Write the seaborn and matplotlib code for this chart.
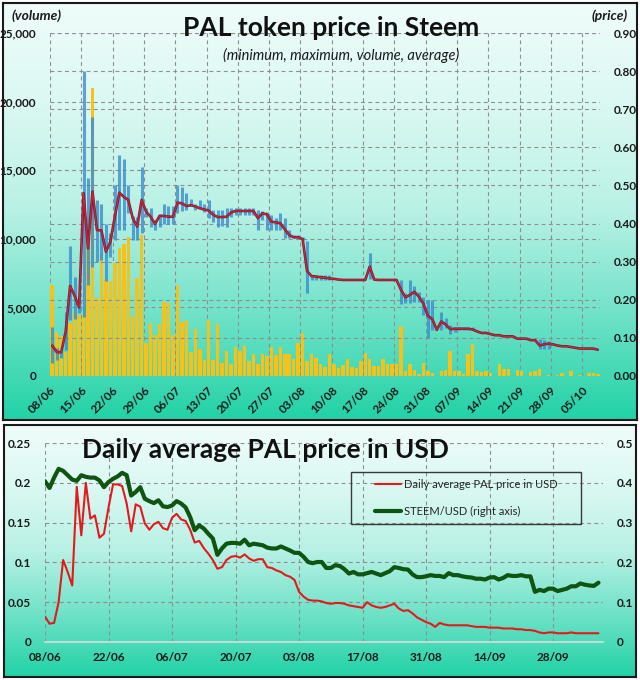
import numpy as np
import pandas as pd
import matplotlib.pyplot as plt
from matplotlib.colors import LinearSegmentedColormap
from matplotlib.patches import Rectangle
from matplotlib.ticker import FuncFormatter
import matplotlib.transforms as mtransforms
import seaborn as sns

sns.set_style("white")
plt.rcParams['font.family'] = ['Lato', 'DejaVu Sans']

dates = pd.date_range("2018-06-08", periods=123, freq="D")

# daily PAL trading volume (left axis, top chart)
volume = [6650, 3200, 2900, 1750, 3850, 4650, 4450, 4500, 11600, 21000,
          5700, 9000, 7000, 6950, 8250, 9300, 9650, 10100, 4300, 7150,
          10300, 2400, 3850, 3000, 3800, 5400, 5300, 3000, 6600, 3950,
          4050, 1750, 3450, 2000, 1150, 4050, 1200, 3800, 950, 1850,
          900, 2100, 1850, 2200, 1100, 1600, 900, 1600, 1450, 2100,
          1550, 2100, 1600, 1600, 1250, 2400, 3150, 1100, 1600, 1300,
          900, 650, 1600, 900, 550, 800, 1250, 650, 550, 1100,
          1650, 1250, 700, 700, 1250, 900, 850, 850, 3650, 350,
          850, 450, 150, 950, 400, 200, 0, 400, 450, 1800,
          400, 400, 150, 1600, 2300, 400, 300, 400, 250, 0,
          850, 500, 500, 0, 450, 400, 0, 300, 350, 500,
          0, 100, 0, 100, 200, 0, 400, 0, 100, 0,
          200, 200, 150]

# average price in STEEM
price_avg = [0.080, 0.063, 0.062, 0.116, 0.236, 0.211, 0.180, 0.480, 0.335, 0.484,
             0.383, 0.382, 0.326, 0.352, 0.418, 0.481, 0.470, 0.462, 0.414, 0.392,
             0.462, 0.431, 0.418, 0.399, 0.420, 0.420, 0.418, 0.418, 0.455, 0.453,
             0.446, 0.448, 0.445, 0.440, 0.437, 0.434, 0.423, 0.417, 0.417, 0.418,
             0.429, 0.433, 0.433, 0.433, 0.433, 0.433, 0.414, 0.427, 0.424, 0.405,
             0.403, 0.401, 0.385, 0.370, 0.364, 0.364, 0.359, 0.275, 0.262, 0.261,
             0.259, 0.258, 0.256, 0.255, 0.253, 0.252, 0.252, 0.252, 0.252, 0.252,
             0.252, 0.287, 0.253, 0.252, 0.252, 0.252, 0.252, 0.252, 0.226, 0.206,
             0.213, 0.221, 0.208, 0.190, 0.158, 0.149, 0.121, 0.143, 0.135, 0.123,
             0.124, 0.124, 0.124, 0.124, 0.122, 0.117, 0.113, 0.113, 0.110, 0.107,
             0.107, 0.104, 0.104, 0.104, 0.098, 0.098, 0.098, 0.094, 0.094, 0.080,
             0.083, 0.085, 0.083, 0.080, 0.078, 0.078, 0.076, 0.074, 0.072, 0.072,
             0.072, 0.072, 0.069]

# daily maximum / minimum price (None = no range shown)
price_max = [0.129, 0.073, 0.066, 0.169, 0.340, 0.260, 0.210, 0.800, 0.520, 0.680,
             0.462, 0.450, 0.400, 0.375, 0.500, 0.580, 0.570, 0.500, 0.420, 0.418,
             0.549, 0.440, 0.440, 0.410, 0.425, 0.450, 0.445, 0.445, 0.500, 0.495,
             0.480, 0.464, 0.450, 0.462, 0.450, 0.462, 0.436, 0.436, 0.436, 0.440,
             0.440, 0.440, 0.440, 0.440, 0.440, 0.440, 0.436, 0.432, 0.430, 0.423,
             0.414, 0.427, 0.414, 0.383, 0.370, 0.370, 0.364, 0.353, 0.265, 0.265,
             0.265, 0.265, 0.265, None, None, None, None, None, None, None,
             None, 0.322, None, None, None, None, None, None, 0.252, 0.217,
             0.252, 0.236, 0.220, 0.206, 0.200, 0.200, None, 0.169, 0.151, 0.134,
             0.129, 0.128, 0.128, 0.128, 0.128, None, None, None, None, None,
             None, None, None, None, None, None, None, None, None, 0.096,
             0.094, 0.092, None, None, None, None, None, None, None, None,
             None, None, None]
price_min = [0.033, 0.043, 0.047, 0.068, 0.147, 0.150, 0.165, 0.156, 0.240, 0.287,
             0.300, 0.305, 0.250, 0.313, 0.357, 0.383, 0.383, 0.427, 0.357, 0.357,
             0.374, 0.418, 0.392, 0.383, 0.392, 0.400, 0.400, 0.400, 0.427, 0.432,
             0.436, 0.445, 0.435, 0.440, 0.430, 0.414, 0.405, 0.392, 0.394, 0.392,
             0.418, 0.423, 0.423, 0.423, 0.423, 0.423, 0.383, 0.410, 0.383, 0.383,
             0.383, 0.383, 0.361, 0.361, 0.361, 0.361, 0.357, 0.217, 0.252, 0.252,
             0.252, 0.252, 0.252, None, None, None, None, None, None, None,
             None, 0.255, None, None, None, None, None, None, 0.190, 0.191,
             0.191, 0.195, 0.195, 0.160, 0.101, 0.122, None, 0.121, 0.125, 0.110,
             0.116, 0.120, 0.120, 0.120, 0.120, None, None, None, None, None,
             None, None, None, None, None, None, None, None, None, 0.070,
             0.070, 0.070, None, None, None, None, None, None, None, None,
             None, None, None]

# bottom chart
pal_usd = [0.032, 0.023, 0.024, 0.050, 0.103, 0.088, 0.071, 0.195, 0.134, 0.200,
           0.155, 0.159, 0.131, 0.136, 0.169, 0.198, 0.198, 0.196, 0.174, 0.139,
           0.173, 0.170, 0.149, 0.141, 0.148, 0.151, 0.143, 0.141, 0.156, 0.161,
           0.154, 0.152, 0.141, 0.125, 0.127, 0.118, 0.111, 0.103, 0.092, 0.094,
           0.103, 0.107, 0.108, 0.106, 0.110, 0.105, 0.102, 0.104, 0.104, 0.094,
           0.093, 0.090, 0.088, 0.084, 0.082, 0.078, 0.063, 0.057, 0.053, 0.052,
           0.052, 0.051, 0.049, 0.048, 0.049, 0.049, 0.048, 0.046, 0.045, 0.044,
           0.043, 0.050, 0.046, 0.044, 0.043, 0.044, 0.046, 0.048, 0.042, 0.039,
           0.040, 0.036, 0.031, 0.028, 0.025, 0.023, 0.019, 0.024, 0.022, 0.021,
           0.021, 0.021, 0.021, 0.021, 0.020, 0.019, 0.019, 0.019, 0.018, 0.018,
           0.018, 0.017, 0.017, 0.017, 0.016, 0.016, 0.015, 0.015, 0.014, 0.012,
           0.011, 0.012, 0.012, 0.011, 0.011, 0.011, 0.012, 0.011, 0.011, 0.011,
           0.011, 0.011, 0.011]
steem_usd = [0.404, 0.387, 0.413, 0.435, 0.430, 0.419, 0.408, 0.405, 0.419, 0.415,
             0.413, 0.413, 0.406, 0.389, 0.402, 0.410, 0.416, 0.425, 0.419, 0.368,
             0.377, 0.389, 0.360, 0.354, 0.349, 0.356, 0.341, 0.339, 0.343, 0.354,
             0.348, 0.338, 0.314, 0.281, 0.293, 0.285, 0.272, 0.260, 0.219, 0.235,
             0.247, 0.249, 0.249, 0.247, 0.257, 0.243, 0.247, 0.245, 0.243, 0.237,
             0.235, 0.235, 0.240, 0.235, 0.230, 0.224, 0.224, 0.214, 0.201, 0.198,
             0.201, 0.201, 0.186, 0.186, 0.193, 0.191, 0.183, 0.172, 0.176, 0.170,
             0.170, 0.173, 0.176, 0.172, 0.168, 0.173, 0.178, 0.188, 0.186, 0.183,
             0.182, 0.170, 0.163, 0.163, 0.165, 0.168, 0.166, 0.166, 0.163, 0.173,
             0.168, 0.168, 0.165, 0.163, 0.162, 0.159, 0.159, 0.157, 0.162, 0.163,
             0.157, 0.161, 0.168, 0.166, 0.166, 0.168, 0.165, 0.165, 0.126, 0.131,
             0.128, 0.134, 0.134, 0.128, 0.131, 0.134, 0.140, 0.140, 0.147, 0.144,
             0.142, 0.141, 0.149]

days = np.arange(len(dates))
top = pd.DataFrame({"x": days + 0.5, "volume": volume, "avg": price_avg,
                    "hi": np.array(price_max, dtype=float),
                    "lo": np.array(price_min, dtype=float)})
bottom = pd.DataFrame({"x": days, "pal": pal_usd, "steem": steem_usd})

grad_cmap = LinearSegmentedColormap.from_list(
    "bg", ["#effcfa", "#daf8f2", "#b8f1e5", "#6fe2c8", "#22d2a6"], N=256)
grid_kw = dict(color="#8f8f8f", linestyle=(0, (3.5, 3)), linewidth=0.8)
txt = "#1a1a1a"

fig = plt.figure(figsize=(6.4, 6.8), dpi=100)


def panel(rect):
    bg = fig.add_axes(rect, zorder=0)
    g = np.linspace(0, 1, 256).reshape(-1, 1)
    bg.imshow(g, aspect="auto", cmap=grad_cmap, extent=(0, 1, 0, 1), origin="upper")
    bg.set_xticks([])
    bg.set_yticks([])
    for s in bg.spines.values():
        s.set_color("#1a1a1a")
        s.set_linewidth(1.5)


panel([3 / 640, 1 - 420 / 680, 634 / 640, 417 / 680])
panel([4 / 640, 3 / 680, 632 / 640, 252 / 680])

# ---------- top chart ----------
ax = fig.add_axes([50 / 640, 1 - 376 / 680, 550 / 640, 343 / 680], zorder=1)
ax.patch.set_visible(False)
ax2 = ax.twinx()
ax2.set_zorder(2)
ax2.patch.set_visible(False)

ax.bar(top["x"], top["volume"], width=0.78, color="#f4c21a", edgecolor="none",
       linewidth=0, zorder=2)
rng = top.dropna()
ax2.vlines(rng["x"], rng["lo"], rng["hi"], color="#3a8dcc", lw=2.2, alpha=0.8, zorder=3)
sns.lineplot(x=top["x"], y=top["avg"], ax=ax2, color="#76203f", lw=1.9, zorder=4)
sns.lineplot(x=top["x"], y=top["avg"], ax=ax2, color="#e8202a", lw=0.7, zorder=5)

ax.set_xlim(0, 123)
ax.set_ylim(0, 25000)
ax2.set_ylim(0, 0.9)
ax.set_yticks(np.arange(0, 25001, 5000))
ax2.set_yticks(np.arange(0, 0.91, 0.1))
ax.yaxis.set_major_formatter(FuncFormatter(lambda v, _: f"{v:,.0f}"))
ax2.yaxis.set_major_formatter(FuncFormatter(lambda v, _: f"{v:.2f}"))
ax.set_xticks(np.arange(0, 123, 7))
ax.set_xticklabels(dates[::7].strftime("%d/%m"), rotation=45, ha="right",
                   rotation_mode="anchor")
off = mtransforms.ScaledTranslation(8 / 100, 0, fig.dpi_scale_trans)
for lab in ax.get_xticklabels():
    lab.set_transform(lab.get_transform() + off)
ax.grid(True, axis="both", **grid_kw)
ax2.grid(True, axis="y", **grid_kw)
ax.set_axisbelow(True)
for a in (ax, ax2):
    a.set_xlabel("")
    a.set_ylabel("")
    a.tick_params(length=0, labelsize=8.5, labelcolor=txt, pad=6)
    for lab in a.get_xticklabels() + a.get_yticklabels():
        lab.set_fontweight("bold")
    for s in a.spines.values():
        s.set_visible(False)
ax.tick_params(axis="y", pad=10)
ax2.tick_params(axis="y", pad=10)

fig.text(331 / 640, 1 - 28 / 680, "PAL token price in Steem", ha="center", va="center",
         fontsize=19, fontweight="bold", color="#111111")
fig.text(341 / 640, 1 - 55 / 680, "(minimum, maximum, volume, average)", ha="center",
         va="center", fontsize=10.5, style="italic", color=txt)
fig.text(12 / 640, 1 - 16 / 680, "(volume)", ha="left", va="center", fontsize=10,
         style="italic", fontweight="bold", color=txt)
fig.text(628 / 640, 1 - 16 / 680, "(price)", ha="right", va="center", fontsize=10,
         style="italic", fontweight="bold", color=txt)

# ---------- bottom chart ----------
ax3 = fig.add_axes([45 / 640, 1 - 642 / 680, 558 / 640, 199 / 680], zorder=1)
ax3.patch.set_visible(False)
ax4 = ax3.twinx()
ax4.set_zorder(2)
ax4.patch.set_visible(False)

sns.lineplot(x=bottom["x"], y=bottom["pal"], ax=ax3, color="#e31a1c", lw=1.5)
sns.lineplot(x=bottom["x"], y=bottom["steem"], ax=ax4, color="#0f5512", lw=3)

ax3.set_xlim(0, 123)
ax3.set_ylim(0, 0.25)
ax4.set_ylim(0, 0.5)
ax3.set_yticks(np.arange(0, 0.251, 0.05))
ax4.set_yticks(np.arange(0, 0.51, 0.1))
fmt = FuncFormatter(lambda v, _: f"{round(v, 3):g}")
ax3.yaxis.set_major_formatter(fmt)
ax4.yaxis.set_major_formatter(fmt)
ax3.set_xticks(np.arange(0, 123, 14))
ax3.set_xticklabels(dates[::14].strftime("%d/%m"))
ax3.grid(True, axis="both", **grid_kw)
for a in (ax3, ax4):
    a.set_xlabel("")
    a.set_ylabel("")
    a.tick_params(length=0, labelsize=8.5, labelcolor=txt, pad=10)
    for lab in a.get_xticklabels() + a.get_yticklabels():
        lab.set_fontweight("bold")
    for s in a.spines.values():
        s.set_visible(False)
ax3.spines["bottom"].set_visible(True)
ax3.spines["bottom"].set_color("#dcdcdc")
ax3.spines["bottom"].set_linewidth(1.2)
ax3.tick_params(axis="x", pad=7)

fig.text(265 / 640, 1 - 450 / 680, "Daily average PAL price in USD", ha="center",
         va="center", fontsize=19, fontweight="bold", color="#111111")

box = (0.548, 0.591, 0.413, 0.265)
ax4.add_patch(Rectangle(box[:2], box[2], box[3], transform=ax4.transAxes, fill=False,
                        edgecolor="#3a3a3a", lw=1.0, zorder=6))
h1 = plt.Line2D([], [], color="#e31a1c", lw=1.5)
h2 = plt.Line2D([], [], color="#0f5512", lw=3)
ax4.legend([h1, h2], ["Daily average PAL price in USD", "STEEM/USD (right axis)"],
           loc="center", bbox_to_anchor=(box[0] + box[2] / 2, box[1] + box[3] / 2),
           frameon=False, fontsize=8, handlelength=2.4, handletextpad=0.2,
           labelspacing=1.5)

fig.savefig("out.png", dpi=100)
